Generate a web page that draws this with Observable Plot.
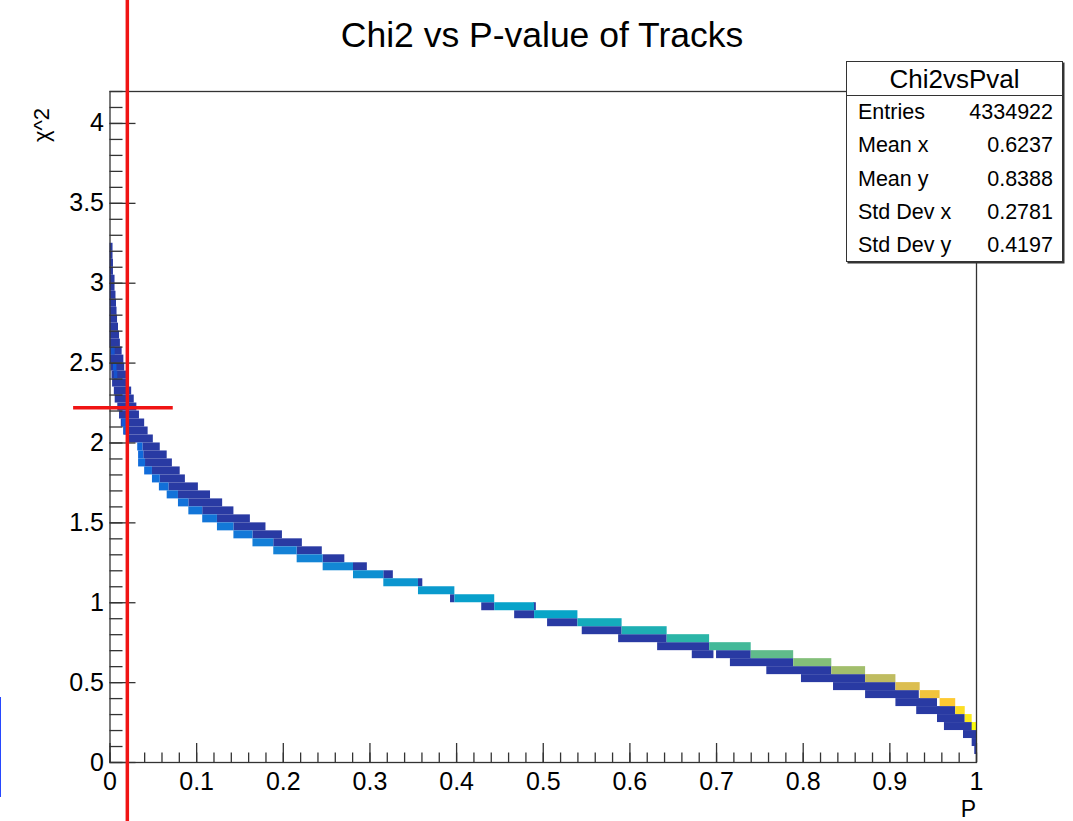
<!DOCTYPE html>
<html>
<head>
<meta charset="utf-8">
<script src="https://cdn.jsdelivr.net/npm/d3@7"></script>
<script src="https://cdn.jsdelivr.net/npm/@observablehq/plot@0.6"></script>
<style>
  html, body { margin: 0; padding: 0; background: #fff; overflow: hidden; }
  #wrap { position: relative; width: 1073px; height: 821px; font-family: "Liberation Sans", Arial, Helvetica, sans-serif; color: #000; }
  #chart { position: absolute; left: 0; top: 0; }
  .title { position: absolute; left: 542px; top: 15px; transform: translateX(-50%); font-size: 35.5px; white-space: nowrap; }
  .ylab { position: absolute; left: 30px; top: 142px; transform-origin: 0 0; transform: rotate(-90deg); font-size: 22px; line-height: 24px; white-space: nowrap; }
  .xlab { position: absolute; right: 97px; top: 796px; font-size: 23px; line-height: 26px; }
  .stats { position: absolute; left: 846px; top: 61px; width: 217px; height: 201px; box-sizing: border-box;
           background: #fff; border: 1.5px solid #333; box-shadow: 1.5px 1.5px 0 #333; }
  .stats .head { height: 33px; line-height: 34px; text-align: center; font-size: 26px; border-bottom: 1.5px solid #333; }
  .stats .row { display: flex; justify-content: space-between; height: 33.3px; line-height: 33px; font-size: 21.5px; padding: 0 9px 0 11px; }
  .selbox { position: absolute; left: -99px; top: 697px; width: 100px; height: 100px; box-sizing: border-box; border: 2px solid #2747ff; }
</style>
</head>
<body>
<div id="wrap">
  <div id="chart"></div>
  <div class="title" id="title"></div>
  <div class="ylab" id="ylab"></div>
  <div class="xlab" id="xlab"></div>
  <div class="stats" id="stats"></div>
  <div class="selbox"></div>
</div>
<script>
// ---- Histogram contents: chi2 (bin lower edge) vs track P-value ----
const binHeight = 0.05;

// Populated band (higher occupancy): chi2 bin, P range, relative occupancy
const denseLo    = [2.55, 2.45, 2.40, 2.10, 2.05,
                    1.95, 1.90, 1.85, 1.80, 1.75, 1.70, 1.65, 1.60, 1.55, 1.50, 1.45, 1.40,
                    1.35, 1.30, 1.25, 1.20, 1.15, 1.10, 1.05, 1.00, 0.95, 0.90, 0.85, 0.80,
                    0.75, 0.70, 0.65, 0.60, 0.55, 0.50, 0.45, 0.40, 0.35, 0.30, 0.25, 0.20];
const denseFrom  = [0.001, 0.004, 0.005, 0.014, 0.016,
                    0.032, 0.033, 0.033, 0.040, 0.049, 0.057, 0.066, 0.079, 0.091, 0.107, 0.124, 0.143,
                    0.165, 0.189, 0.216, 0.246, 0.281, 0.316, 0.356, 0.398, 0.444, 0.490, 0.540, 0.591,
                    0.643, 0.692, 0.740, 0.789, 0.833, 0.872, 0.907, 0.935, 0.958, 0.976, 0.987, 0.995];
const denseTo    = [0.006, 0.008, 0.009, 0.019, 0.021,
                    0.038, 0.039, 0.041, 0.049, 0.058, 0.068, 0.079, 0.091, 0.107, 0.124, 0.143, 0.165,
                    0.189, 0.216, 0.246, 0.281, 0.316, 0.356, 0.398, 0.444, 0.490, 0.540, 0.591, 0.643,
                    0.692, 0.740, 0.789, 0.833, 0.872, 0.907, 0.935, 0.958, 0.976, 0.987, 0.995, 1.000];
const denseLevel = [0.10, 0.12, 0.10, 0.12, 0.14,
                    0.17, 0.17, 0.18, 0.18, 0.19, 0.19, 0.20, 0.20, 0.21, 0.21, 0.22, 0.22,
                    0.24, 0.25, 0.26, 0.27, 0.30, 0.32, 0.34, 0.36, 0.37, 0.38, 0.42, 0.45,
                    0.49, 0.53, 0.57, 0.62, 0.67, 0.72, 0.78, 0.84, 0.88, 0.93, 0.96, 1.00];

// Sparse band (low occupancy): chi2 bin, P range
const sparseLo   = [3.20, 3.15, 3.10, 3.05, 3.00, 2.95, 2.90, 2.85, 2.80, 2.75, 2.70, 2.65, 2.60,
                    2.55, 2.50, 2.45, 2.40, 2.35, 2.30, 2.25, 2.20, 2.15, 2.10, 2.05, 2.00,
                    1.95, 1.90, 1.85, 1.80, 1.75, 1.70, 1.65, 1.60, 1.55, 1.50, 1.45, 1.40,
                    1.35, 1.30, 1.25, 1.20, 1.15, 1.10, 1.00, 0.95, 0.95, 0.90, 0.85, 0.80,
                    0.75, 0.70, 0.65, 0.65, 0.60, 0.55, 0.50, 0.45, 0.40, 0.35, 0.30, 0.25,
                    0.20, 0.15, 0.10, 0.05];
const sparseFrom = [0, 0, 0, 0, 0, 0, 0, 0, 0, 0, 0, 0, 0,
                    0.0006, 0.0006, 0.0012, 0.0023, 0.003, 0.005, 0.006, 0.009, 0.011, 0.013, 0.016, 0.021,
                    0.038, 0.039, 0.041, 0.049, 0.058, 0.068, 0.079, 0.091, 0.107, 0.124, 0.143, 0.165,
                    0.189, 0.216, 0.246, 0.281, 0.316, 0.356, 0.393, 0.429, 0.489, 0.467, 0.505, 0.545,
                    0.587, 0.632, 0.672, 0.700, 0.716, 0.758, 0.798, 0.835, 0.872, 0.907, 0.931, 0.955,
                    0.963, 0.985, 0.995, 0.998];
const sparseTo   = [0.0035, 0.0035, 0.004, 0.004, 0.0058, 0.0058, 0.0069, 0.0075, 0.0081, 0.0087, 0.0098, 0.011, 0.012,
                    0.014, 0.016, 0.017, 0.019, 0.021, 0.025, 0.028, 0.031, 0.034, 0.040, 0.044, 0.050,
                    0.058, 0.066, 0.072, 0.081, 0.087, 0.102, 0.116, 0.130, 0.143, 0.162, 0.180, 0.199,
                    0.222, 0.245, 0.271, 0.297, 0.327, 0.361, 0.398, 0.444, 0.492, 0.490, 0.540, 0.591,
                    0.643, 0.692, 0.697, 0.740, 0.789, 0.833, 0.872, 0.907, 0.934, 0.955, 0.976, 0.987,
                    0.996, 1.000, 1.000, 1.000];
const sparseLevel = 0.04;

// Statistics box
const statsName   = "Chi2vsPval";
const statsLabels = ["Entries", "Mean x", "Mean y", "Std Dev x", "Std Dev y"];
const statsValues = ["4334922", "0.6237", "0.8388", "0.2781", "0.4197"];

// Axis ticks
const xMajor = [0, 0.1, 0.2, 0.3, 0.4, 0.5, 0.6, 0.7, 0.8, 0.9, 1];
const yMajor = [0, 0.5, 1, 1.5, 2, 2.5, 3, 3.5, 4];
const xMinor = d3.range(0, 51).map(i => i / 50);
const yMinor = d3.range(0, 43).map(i => i / 10);

// Cut marker drawn over the histogram
const cutP = [0.02];
const cutChi2 = [2.22];
const cutChi2Span = [-0.042, 0.073];

// Palette (ROOT "bird") stops
const birdStops  = [0, 0.125, 0.25, 0.375, 0.5, 0.625, 0.75, 0.875, 1];
const birdColors = ["#352a87", "#0f5cdd", "#1481d6", "#06a4ca", "#2eb7a4", "#87bf77", "#d1bb59", "#fec832", "#f9fb0e"];

const denseCells = denseLo.map((lo, i) => ({lo, hi: lo + binHeight, from: denseFrom[i], to: denseTo[i], level: denseLevel[i]}));
const sparseCells = sparseLo.map((lo, i) => ({lo, hi: lo + binHeight, from: sparseFrom[i], to: sparseTo[i], level: sparseLevel}));

const W = 1073, H = 821;
const mL = 109.5, mR = 97, mT = 91, mB = 59;
const frameW = W - mL - mR, frameH = H - mT - mB;
const axisInk = "#333";

const chart = Plot.plot({
  width: W, height: H,
  marginLeft: mL, marginRight: mR, marginTop: mT, marginBottom: mB,
  x: {domain: [0, 1], label: null},
  y: {domain: [0, 4.2], label: null},
  color: {type: "linear", domain: birdStops, range: birdColors},
  style: {fontFamily: "'Liberation Sans', Arial, Helvetica, sans-serif", fontSize: "25px", background: "transparent", overflow: "visible", color: "#000"},
  marks: [
    Plot.rect(sparseCells, {x1: "from", x2: "to", y1: "lo", y2: "hi", fill: "level"}),
    Plot.rect(denseCells, {x1: "from", x2: "to", y1: "lo", y2: "hi", fill: "level"}),
    Plot.frame({stroke: axisInk, strokeWidth: 1.3}),
    Plot.ruleX(xMinor, {insetTop: frameH - 9.5, stroke: axisInk, strokeWidth: 1.3}),
    Plot.ruleX(xMajor, {insetTop: frameH - 19, stroke: axisInk, strokeWidth: 1.3}),
    Plot.ruleY(yMinor.filter(v => v <= 4.2), {insetRight: frameW - 13, stroke: axisInk, strokeWidth: 1.3}),
    Plot.ruleY(yMajor, {insetRight: frameW - 26, stroke: axisInk, strokeWidth: 1.3}),
    Plot.axisX(xMajor, {tickSize: 0, tickPadding: 10, tickFormat: d => String(d), fill: "#000"}),
    Plot.axisY(yMajor, {tickSize: 0, tickPadding: 6, tickFormat: d => String(d), fill: "#000"}),
    Plot.ruleX(cutP, {y1: -0.5, y2: 5.0, stroke: "#f01414", strokeWidth: 3.5}),
    Plot.ruleY(cutChi2, {x1: cutChi2Span[0], x2: cutChi2Span[1], stroke: "#f01414", strokeWidth: 3.5})
  ]
});
document.getElementById("chart").append(chart);

document.getElementById("title").textContent = "Chi2 vs P-value of Tracks";
document.getElementById("ylab").textContent = "\u03C7^2";
document.getElementById("xlab").textContent = "P";

const stats = document.getElementById("stats");
const head = document.createElement("div");
head.className = "head";
head.textContent = statsName;
stats.append(head);
statsLabels.forEach((lab, i) => {
  const row = document.createElement("div");
  row.className = "row";
  const a = document.createElement("span"); a.textContent = lab;
  const b = document.createElement("span"); b.textContent = statsValues[i];
  row.append(a, b);
  stats.append(row);
});
</script>
</body>
</html>
